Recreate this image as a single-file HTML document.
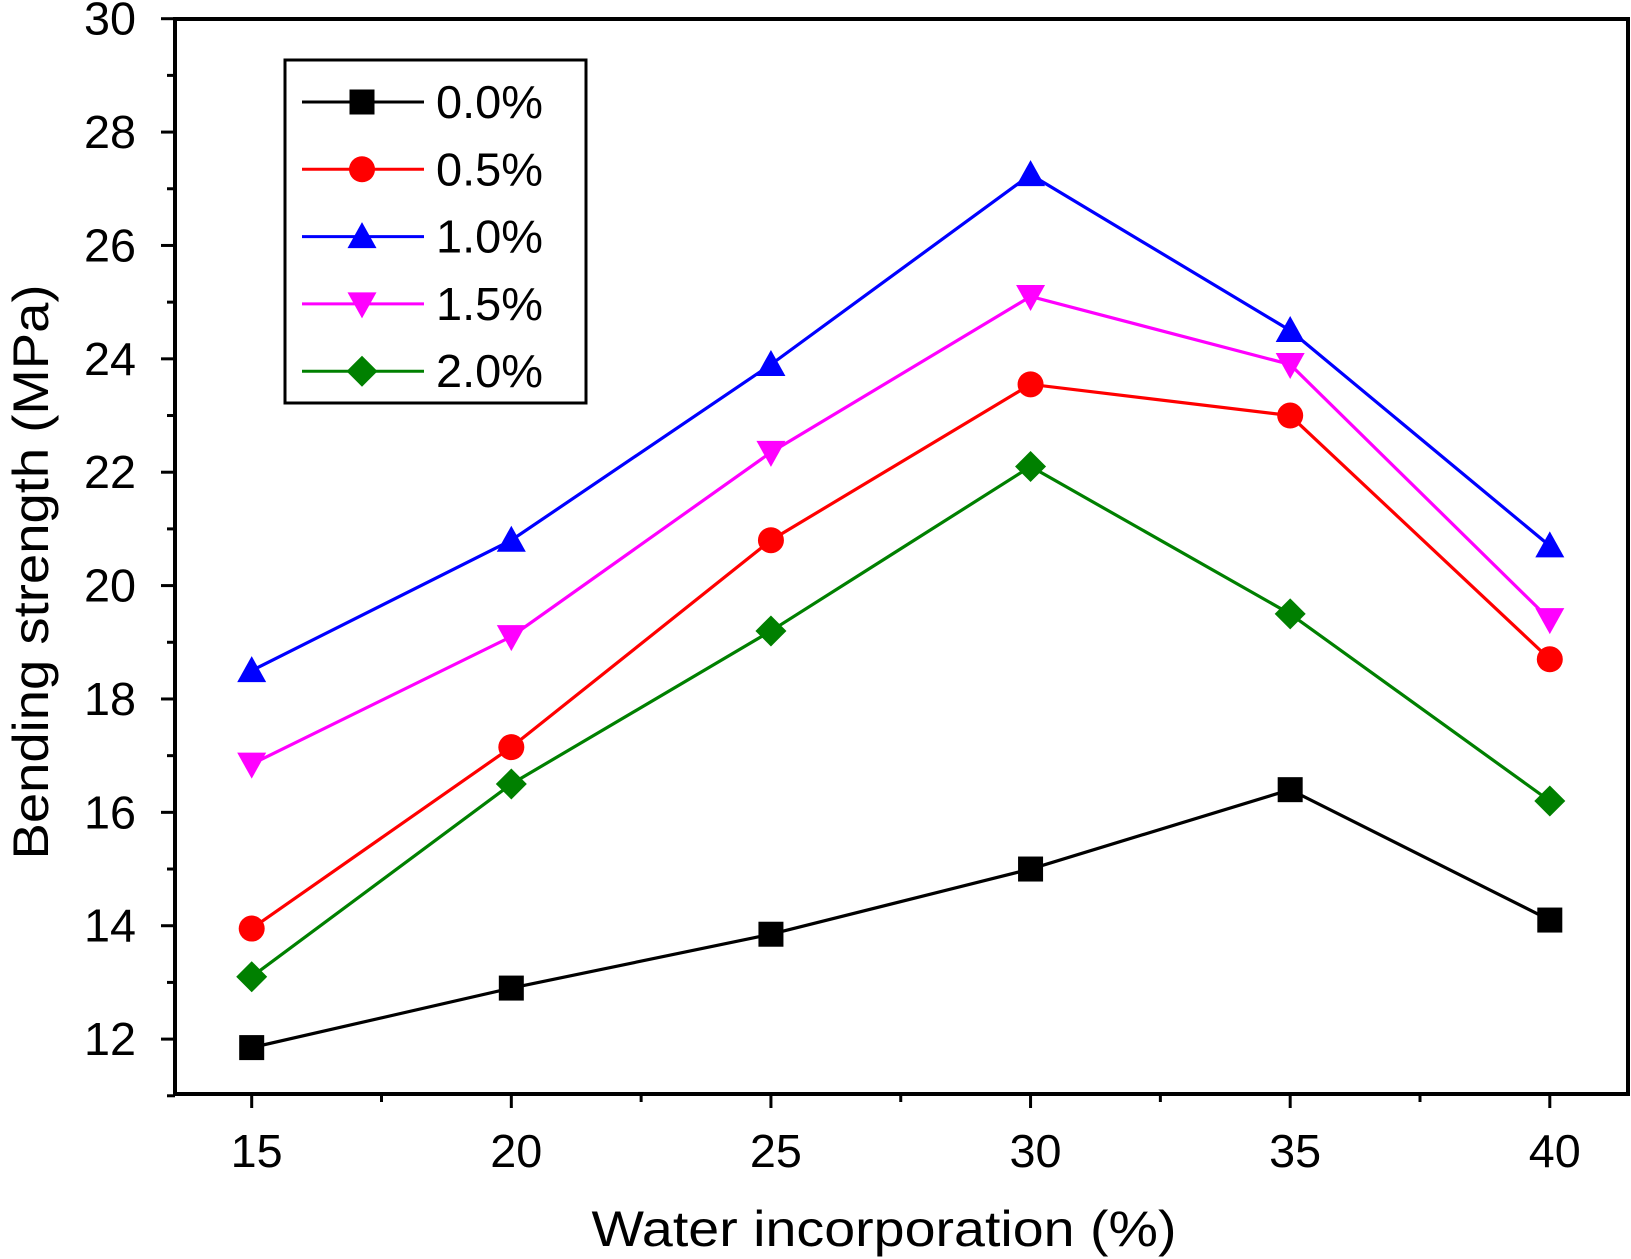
<!DOCTYPE html>
<html><head><meta charset="utf-8"><style>
body{margin:0;background:#fff}
svg{display:block}
text{font-family:"Liberation Sans",Arial,sans-serif;fill:#000}
</style></head><body>
<svg id="chart" width="1631" height="1259" viewBox="0 0 1631 1259">
</svg>
<script>
const categories=[15,20,25,30,35,40];
const seriesNames=["0.0%","0.5%","1.0%","1.5%","2.0%"];
const s00=[11.85,12.9,13.85,15.0,16.4,14.1];
const s05=[13.95,17.15,20.8,23.55,23.0,18.7];
const s10=[18.5,20.8,23.9,27.25,24.5,20.7];
const s15=[16.85,19.1,22.35,25.1,23.9,19.4];
const s20=[13.1,16.5,19.2,22.1,19.5,16.2];
const yTicks=[12,14,16,18,20,22,24,26,28,30];
const xTicks=[15,20,25,30,35,40];

const svg=document.getElementById('chart');
const NS='http://www.w3.org/2000/svg';
const L=175,R=1628,T=19,B=1094;
const xs=v=>251.7+(v-15)*(1549.8-251.7)/25;
const ys=v=>1039.1-(v-12)*(1039.1-18.7)/18;
function mk(tag,attrs,parent){const e=document.createElementNS(NS,tag);for(const k in attrs)e.setAttribute(k,attrs[k]);(parent||svg).appendChild(e);return e;}

const series=[
 {vals:s00,color:"#000000",shape:"square",name:seriesNames[0]},
 {vals:s05,color:"#ff0000",shape:"circle",name:seriesNames[1]},
 {vals:s10,color:"#0000ff",shape:"up",name:seriesNames[2]},
 {vals:s15,color:"#ff00ff",shape:"down",name:seriesNames[3]},
 {vals:s20,color:"#008000",shape:"diamond",name:seriesNames[4]}
];
function marker(shape,x,y,c,g){
 const s=12.5;let e;
 if(shape==="square")e=mk('rect',{x:x-s,y:y-s,width:2*s,height:2*s,fill:c},g);
 else if(shape==="circle")e=mk('circle',{cx:x,cy:y,r:s+0.5,fill:c},g);
 else if(shape==="up")e=mk('polygon',{points:`${x},${y-s-2} ${x-s-2},${y+s-1} ${x+s+2},${y+s-1}`,fill:c},g);
 else if(shape==="down")e=mk('polygon',{points:`${x},${y+s+2} ${x-s-2},${y-s+1} ${x+s+2},${y-s+1}`,fill:c},g);
 else e=mk('polygon',{points:`${x},${y-s-3} ${x+s+3},${y} ${x},${y+s+3} ${x-s-3},${y}`,fill:c},g);
 return e;
}
series.forEach((sr,i)=>{
 const g=mk('g',{});
 
 
 const pts=sr.vals.map((v,j)=>xs(categories[j])+','+ys(v)).join(' ');
 const pl=mk('polyline',{points:pts,fill:'none',stroke:sr.color,'stroke-width':3.2},g);
 
 
 sr.vals.forEach((v,j)=>{
  const m=marker(sr.shape,xs(categories[j]),ys(v),sr.color,g);
  
  
 });
});
const fr=mk('rect',{x:L,y:T,width:R-L,height:B-T,fill:'none',stroke:'#000','stroke-width':4});


for(let v=11;v<=30;v++){
 const y=ys(v);const major=v%2===0;
 const t=mk('line',{x1:L-(major?14:8),x2:L,y1:y,y2:y,stroke:'#000','stroke-width':3});
 
 
}
yTicks.forEach(v=>{
 const t=mk('text',{x:L-65,y:ys(v)+16,'text-anchor':'middle','font-size':46,textLength:52,lengthAdjust:'spacingAndGlyphs'});
 t.textContent=v;
 
 
});
for(let v=15;v<=40;v+=2.5){
 const x=xs(v);const major=v%5===0;
 const t=mk('line',{x1:x,x2:x,y1:B,y2:B+(major?14:8),stroke:'#000','stroke-width':3});
 
 
}
xTicks.forEach(v=>{
 const t=mk('text',{x:xs(v)+5,y:1167,'text-anchor':'middle','font-size':46,textLength:52,lengthAdjust:'spacingAndGlyphs'});
 t.textContent=v;
 
 
});
const xt=mk('text',{x:884,y:1246,'text-anchor':'middle','font-size':50,textLength:585,lengthAdjust:'spacingAndGlyphs'});
xt.textContent='Water incorporation (%)';


const yt=mk('text',{x:0,y:0,'text-anchor':'middle','font-size':50,transform:'translate(48,572) rotate(-90)',textLength:575,lengthAdjust:'spacingAndGlyphs'});
yt.textContent='Bending strength (MPa)';


const lg=mk('g',{});


const lb=mk('rect',{x:285,y:60,width:301,height:343,fill:'#fff',stroke:'#000','stroke-width':3},lg);


series.forEach((sr,i)=>{
 const y=102+i*67.3;
 const eg=mk('g',{},lg);
 
 
 mk('line',{x1:302,x2:424,y1:y,y2:y,stroke:sr.color,'stroke-width':3},eg);
 marker(sr.shape,362,y,sr.color,eg);
 const t=mk('text',{x:436,y:y+16,'font-size':46,textLength:107,lengthAdjust:'spacingAndGlyphs'},eg);
 t.textContent=sr.name;
});
</script>
</body></html>
